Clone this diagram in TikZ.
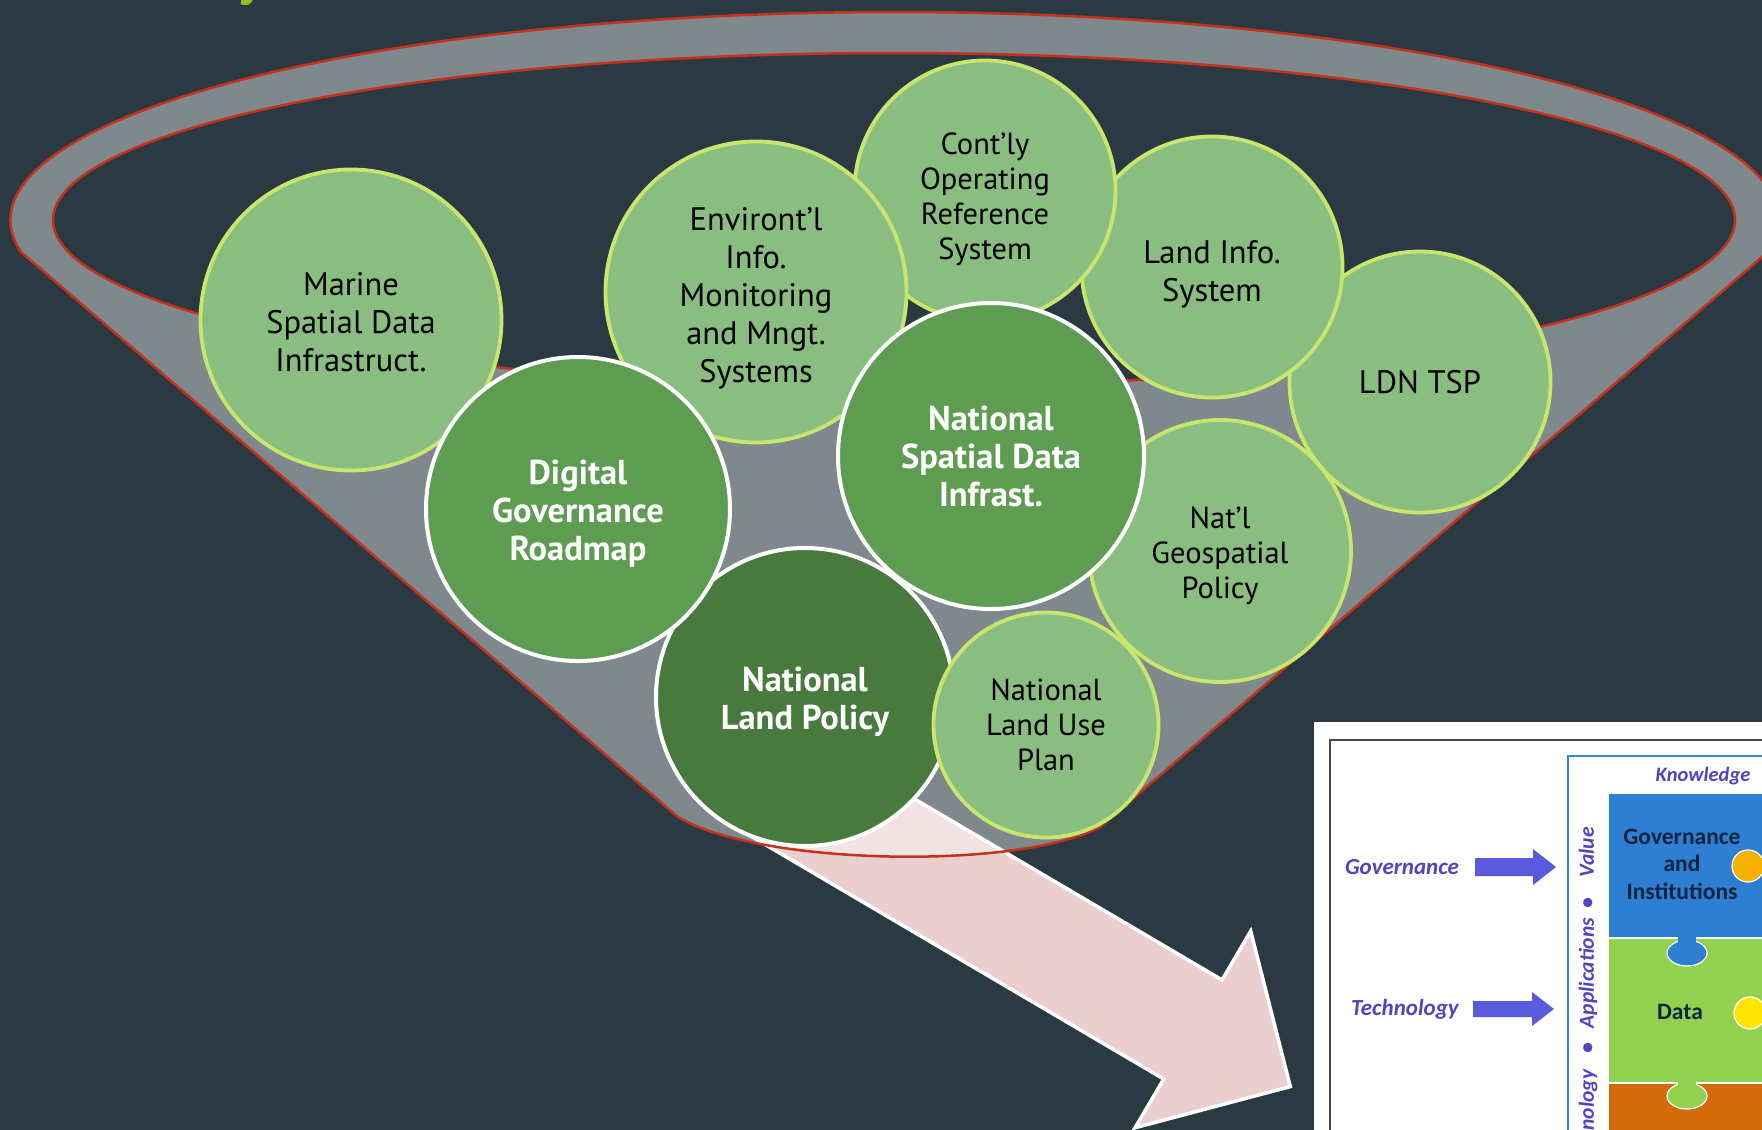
\documentclass[tikz,border=0pt]{standalone}
\usepackage{fontspec}
\setmainfont{PT Sans}
\newfontfamily\insetfont{Carlito}
\definecolor{bg}{HTML}{2B3A42}
\definecolor{lgreen}{HTML}{8ABD80}
\definecolor{mgreen}{HTML}{5E9D51}
\definecolor{dgreen}{HTML}{487A3D}
\definecolor{lborder}{HTML}{C8E56E}
\definecolor{fred}{HTML}{C4321C}
\definecolor{apink}{HTML}{EBCFCF}
\definecolor{ttlgreen}{HTML}{8DC21F}
\definecolor{framegray}{HTML}{474747}
\definecolor{boxblue}{HTML}{3A86D4}
\definecolor{pblue}{HTML}{2E7FD2}
\definecolor{pgreen}{HTML}{92D050}
\definecolor{porange}{HTML}{D26B0C}
\definecolor{pgold}{HTML}{F6B100}
\definecolor{pyellow}{HTML}{FFE400}
\definecolor{labblue}{HTML}{4F45C2}
\definecolor{arrblue}{HTML}{5A5ADF}
\definecolor{navy}{HTML}{0E2440}
\begin{document}
\begin{tikzpicture}[x=1pt,y=-1pt,
  lc/.style={circle, inner sep=0pt, fill=lgreen, draw=lborder, line width=3.8pt},
  dc/.style={circle, inner sep=0pt, draw=white, line width=4pt},
  lt/.style={inner sep=0pt, text=black, align=center, font=\fontsize{32.5}{38}\selectfont},
  lts/.style={lt, font=\fontsize{30.5}{35}\selectfont},
  dt/.style={inner sep=0pt, text=white, align=center, font=\bfseries\fontsize{34.5}{38}\selectfont},
  funnel/.style={fill=white, fill opacity=0.4, draw=fred, line width=2.5pt, even odd rule},
  bigarrow/.style={fill=apink, draw=white, line width=3.5pt, line join=miter},
  piece/.style={draw=white, line width=1.2pt},
  lab/.style={inner sep=0pt, text=labblue, font=\insetfont\bfseries\itshape\fontsize{23}{27}\selectfont},
  pc/.style={inner sep=0pt, text=navy, align=center, font=\insetfont\bfseries\fontsize{23.5}{27.5}\selectfont},
  blockarrow/.style={fill=arrblue}
]
\useasboundingbox (0,0) rectangle (1762,1130);
\clip (0,0) rectangle (1762,1130);
\fill[bg] (0,0) rectangle (1762,1130);

% partial title letter
\node[anchor=base west, inner sep=0pt, text=ttlgreen, font=\bfseries\fontsize{64}{64}\selectfont] (ttl) at (236,-8) {y};

% big pink arrow
\coordinate (s1) at (788.4,724.8);
\coordinate (n1) at (1222.0,979.9);
\coordinate (b1) at (1250.7,931.1);
\coordinate (tip) at (1290.3,1086.6);
\coordinate (b2) at (1135.1,1127.7);
\coordinate (n2) at (1163.7,1079.0);
\coordinate (s2) at (730.1,823.9);
\path[bigarrow] (s1) -- (n1) -- (b1) -- (tip) -- (b2) -- (n2) -- (s2) -- cycle;

% funnel
\coordinate (fl) at (21,252);
\coordinate (frc) at (1100,827);
\coordinate (flc) at (678,817);
\path[funnel] (fl) arc[start angle=171.15, end angle=368.85, x radius=884, y radius=208]
  -- (frc) .. controls (1020,870) and (760,866) .. (flc) -- cycle
  (894,220) ellipse[x radius=841, y radius=167];

% circles (back to front), each with its text
\node[lc, minimum size=262pt] (natgeo) at (1220,551) {};
\node[lts] (natgeo-t) at (1220,555.5) {Nat’l\\Geospatial\\Policy};
\node[lc, minimum size=261pt] (ldn) at (1420,382) {};
\node[lt] (ldn-t) at (1420,382) {LDN TSP};
\node[lc, minimum size=261pt] (landinfo) at (1212,267) {};
\node[lt] (landinfo-t) at (1212,274) {Land Info.\\System};
\node[lc, minimum size=261pt] (contly) at (985,191) {};
\node[lts] (contly-t) at (985,199) {Cont’ly\\Operating\\Reference\\System};
\node[lc, minimum size=301pt] (envir) at (756,292) {};
\node[lt] (envir-t) at (756,298) {Environt’l\\Info.\\Monitoring\\and Mngt.\\Systems};
\node[lc, minimum size=301pt] (marine) at (351,320) {};
\node[lt] (marine-t) at (351,322) {Marine\\Spatial Data\\Infrastruct.};
\node[dc, fill=dgreen, minimum size=298pt] (nlp) at (805,697) {};
\node[dt] (nlp-t) at (805,701.5) {National\\Land Policy};
\node[lc, minimum size=225pt] (nlup) at (1046,725) {};
\node[lts] (nlup-t) at (1046,725) {National\\Land Use\\Plan};
\node[dc, fill=mgreen, minimum size=306pt] (nsdi) at (991,456) {};
\node[dt] (nsdi-t) at (991,456) {National\\Spatial Data\\Infrast.};
\node[dc, fill=mgreen, minimum size=304pt] (dg) at (578,509) {};
\node[dt] (dg-t) at (578,513.5) {Digital\\Governance\\Roadmap};

% inset picture
\fill[white] (1314,722) rectangle (1762,1130);
\draw[framegray, line width=2.5pt] (1330,740) rectangle (1800,1200);
\draw[boxblue, line width=2pt] (1568,756) rectangle (1800,1200);
\node[lab, font=\insetfont\bfseries\itshape\fontsize{20.5}{24}\selectfont] (know) at (1703,776) {Knowledge};
\path[piece, fill=porange] (1608,1083) rectangle (1800,1200);
\path[piece, fill=pgreen] (1608,938) rectangle (1800,1083);
\path[piece, fill=pblue] (1608,793) rectangle (1800,938);
% tabs
\path[piece, fill=pblue] (1687,953) ellipse[x radius=20, y radius=13];
\fill[pblue] (1678,936) rectangle (1696,946);
\path[piece, fill=pgreen] (1687,1096) ellipse[x radius=20, y radius=13];
\fill[pgreen] (1678,1080) rectangle (1696,1089);
\path[piece, fill=pgold] (1748,866) circle[radius=16];
\fill[pgold] (1756,858) rectangle (1775,874);
\path[piece, fill=pyellow] (1750,1013) circle[radius=16];
\fill[pyellow] (1758,1005) rectangle (1775,1021);
\node[pc] (gi) at (1682,864) {Governance\\and\\Institutions};
\node[pc] (data) at (1680,1012) {Data};
\node[lab] (gov) at (1402,867) {Governance};
\node[lab] (tech) at (1405,1009) {Technology};
\node[lab, font=\insetfont\bfseries\itshape\fontsize{21.5}{24}\selectfont, rotate=90, anchor=east] (vtxt) at (1588,827) {Technology\hspace{16pt}•\hspace{15pt}Applications\hspace{10pt}•\hspace{20pt}Value};
% block arrows
\coordinate (ga) at (1475,858);
\path[blockarrow] (ga) -- ++(58,0) -- ++(0,-9) -- ++(23,18) -- ++(-23,18) -- ++(0,-9) -- ++(-58,0) -- cycle;
\coordinate (ta) at (1473,1001);
\path[blockarrow] (ta) -- ++(59,0) -- ++(0,-9) -- ++(22,17) -- ++(-22,17) -- ++(0,-9) -- ++(-59,0) -- cycle;
\end{tikzpicture}
\end{document}
